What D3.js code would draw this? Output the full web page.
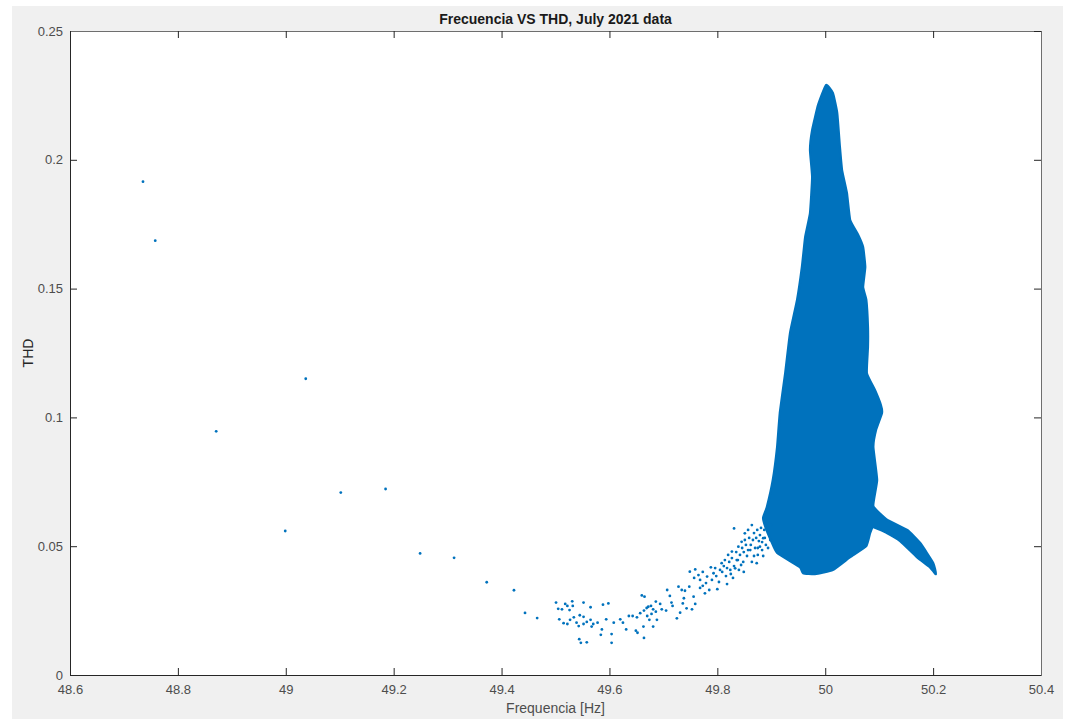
<!DOCTYPE html>
<html lang="en">
<head>
<meta charset="UTF-8">
<script src="https://d3js.org/d3.v7.min.js"></script>
<title>Frecuencia VS THD</title>
<style>
  body { margin: 0; background: #ffffff; }
  text { font-family: "Liberation Sans", Arial, Helvetica, sans-serif; }
</style>
</head>
<body>
<svg width="1065" height="720" id="chart"></svg>
<script>

// tick labels
const xTicks = [48.6, 48.8, 49, 49.2, 49.4, 49.6, 49.8, 50, 50.2, 50.4];
const yTicks = [0, 0.05, 0.1, 0.15, 0.2, 0.25];

// outline of the solid cloud around 50 Hz (freq, thd)
const cloudFreq = [50.0015, 50.014, 50.022, 50.027, 50.031, 50.040, 50.046, 50.061, 50.070, 50.074,
  50.070, 50.076, 50.079, 50.079, 50.077, 50.092, 50.103, 50.105, 50.094, 50.089,
  50.096, 50.089, 50.115, 50.152, 50.176, 50.200, 50.205, 50.194, 50.170, 50.139,
  50.115, 50.089, 50.083, 50.076, 50.046, 50.014, 49.981, 49.959, 49.953, 49.911,
  49.900, 49.890, 49.885, 49.892, 49.903, 49.911, 49.916, 49.926, 49.935, 49.948, 49.957,
  49.963, 49.972, 49.976, 49.972, 49.976, 49.987];
const cloudThd = [0.2290, 0.2259, 0.2182, 0.2050, 0.1960, 0.1871, 0.1766, 0.1708, 0.1661, 0.1584,
  0.1506, 0.1456, 0.1351, 0.1273, 0.1172, 0.1106, 0.1048, 0.1017, 0.0951, 0.0885,
  0.0757, 0.0656, 0.0602, 0.0563, 0.0512, 0.0435, 0.0392, 0.0419, 0.0458, 0.0520,
  0.0551, 0.0575, 0.0551, 0.0501, 0.0458, 0.0408, 0.0392, 0.0396, 0.0419, 0.0474,
  0.0520, 0.0570, 0.0610, 0.0652, 0.0757, 0.0885, 0.1017, 0.1172, 0.1328, 0.1456, 0.1584,
  0.1700, 0.1793, 0.1933, 0.2038, 0.2116, 0.2213];

// single samples outside the cloud
const freq = [48.7353, 48.758, 49.037, 48.871, 49.102, 49.185, 48.999, 49.249, 49.312, 49.3725,
  49.423, 49.4435, 49.466,
  49.501, 49.505, 49.512, 49.518, 49.522, 49.531, 49.532, 49.526, 49.507, 49.515,
  49.522, 49.527, 49.534, 49.539, 49.545, 49.552, 49.543, 49.552, 49.558, 49.565,
  49.570, 49.578, 49.567, 49.552, 49.565, 49.588, 49.598, 49.544, 49.547, 49.558,
  49.594, 49.586, 49.584, 49.604, 49.604, 49.608, 49.620, 49.625, 49.631, 49.636,
  49.643, 49.651, 49.660, 49.665, 49.649, 49.652, 49.663, 49.664, 49.657, 49.664,
  49.669, 49.672, 49.677, 49.681, 49.686, 49.678, 49.670, 49.674, 49.681, 49.688,
  49.686, 49.694, 49.697, 49.705, 49.707, 49.712, 49.715, 49.717, 49.725, 49.728,
  49.734, 49.738, 49.736, 49.743, 49.753, 49.731, 49.740, 49.748, 49.756, 49.759,
  49.749, 49.759, 49.765, 49.768, 49.773, 49.777, 49.781, 49.788, 49.793, 49.800,
  49.805, 49.808, 49.814, 49.820, 49.827, 49.831, 49.833, 49.839, 49.845, 49.851,
  49.857, 49.864, 49.873, 49.879, 49.885,
  49.773, 49.779, 49.785, 49.790, 49.796, 49.798, 49.803, 49.809, 49.812, 49.816,
  49.818, 49.822, 49.824, 49.827, 49.829, 49.835, 49.836, 49.840, 49.842, 49.846,
  49.848, 49.849, 49.853, 49.855, 49.859, 49.861, 49.864, 49.866, 49.868, 49.870,
  49.874, 49.875, 49.877, 49.881, 49.883, 49.887, 49.890, 49.892, 49.768, 49.757,
  49.851, 49.857, 49.862, 49.868, 49.872, 49.875, 49.879, 49.883, 49.885, 49.888,
  49.894, 49.894, 49.898, 49.899, 49.838, 49.844, 49.849, 49.831, 49.825, 49.818];
const thd = [0.1915, 0.1686, 0.1150, 0.0946, 0.0708, 0.0722, 0.0559, 0.0472, 0.0455, 0.0360,
  0.0329, 0.0241, 0.0221,
  0.0281, 0.0257, 0.0255, 0.0276, 0.0268, 0.0286, 0.0268, 0.0252, 0.0216, 0.0201,
  0.0198, 0.0214, 0.0224, 0.0203, 0.0232, 0.0226, 0.0190, 0.0198, 0.0206, 0.0214,
  0.0198, 0.0203, 0.0188, 0.0281, 0.0263, 0.0273, 0.0278, 0.0139, 0.0125, 0.0127,
  0.0216, 0.0177, 0.0156, 0.0159, 0.0125, 0.0203, 0.0216, 0.0203, 0.0177, 0.0229,
  0.0229, 0.0224, 0.0309, 0.0304, 0.0172, 0.0164, 0.0188, 0.0144, 0.0240, 0.0250,
  0.0260, 0.0265, 0.0268, 0.0255, 0.0246, 0.0237, 0.0229, 0.0214, 0.0188, 0.0214,
  0.0285, 0.0276, 0.0255, 0.0250, 0.0330, 0.0307, 0.0281, 0.0268, 0.0220, 0.0343,
  0.0330, 0.0298, 0.0278, 0.0259, 0.0255, 0.0242, 0.0327, 0.0343, 0.0304, 0.0276,
  0.0401, 0.0410, 0.0388, 0.0369, 0.0346, 0.0317, 0.0382, 0.0418, 0.0395, 0.0333,
  0.0408, 0.0434, 0.0446, 0.0466, 0.0479, 0.0569, 0.0414, 0.0498, 0.0517, 0.0550,
  0.0563, 0.0582, 0.0434, 0.0498, 0.0531,
  0.0400, 0.0357, 0.0330, 0.0369, 0.0415, 0.0384, 0.0361, 0.0400, 0.0423, 0.0384,
  0.0353, 0.0439, 0.0408, 0.0454, 0.0377, 0.0477, 0.0446, 0.0408, 0.0466, 0.0493,
  0.0439, 0.0400, 0.0505, 0.0462, 0.0532, 0.0485, 0.0439, 0.0524, 0.0551, 0.0493,
  0.0563, 0.0466, 0.0520, 0.0571, 0.0485, 0.0563, 0.0505, 0.0594, 0.0338, 0.0377,
  0.0524, 0.0485, 0.0505, 0.0462, 0.0532, 0.0493, 0.0543, 0.0516, 0.0462, 0.0532,
  0.0563, 0.0493, 0.0524, 0.0582, 0.0446, 0.0427, 0.0477, 0.0423, 0.0392, 0.0415];

const blue = "#0072bd";
const axisCol = "#262626";

let svg = d3.select("#chart");

// figure background
svg.append("rect")
  .attr("x", 12).attr("y", 6)
  .attr("width", 1051).attr("height", 713)
  .attr("fill", "#f0f0f0");

const pLeft = 70, pRight = 1041, pTop = 31, pBottom = 675;

let x = d3.scaleLinear().domain([48.6, 50.4]).range([pLeft, pRight]);
let y = d3.scaleLinear().domain([0, 0.25]).range([pBottom, pTop]);

svg.append("rect")
  .attr("x", pLeft).attr("y", pTop)
  .attr("width", pRight - pLeft).attr("height", pBottom - pTop)
  .attr("fill", "#ffffff");

svg.append("clipPath").attr("id", "plotclip")
  .append("rect")
  .attr("x", pLeft).attr("y", pTop)
  .attr("width", pRight - pLeft).attr("height", pBottom - pTop);

let plot = svg.append("g").attr("clip-path", "url(#plotclip)");

// the dense cloud
let cloud = cloudFreq.map((f, i) => [f, cloudThd[i]]);
plot.append("path")
  .datum(cloud)
  .attr("d", d3.line().x(d => x(d[0])).y(d => y(d[1])).curve(d3.curveCardinalClosed.tension(0.6)))
  .attr("fill", blue)
  .attr("stroke", blue)
  .attr("stroke-width", 2.5)
  .attr("stroke-linejoin", "round");

// scattered samples
plot.selectAll("circle.pt")
  .data(freq.map((f, i) => [f, thd[i]]))
  .join("circle")
  .attr("class", "pt")
  .attr("cx", d => x(d[0]))
  .attr("cy", d => y(d[1]))
  .attr("r", 1.4)
  .attr("fill", blue);

// axes, ticks inward like matlab
const fmt = d3.format("~g");

let xAxis = svg.append("g")
  .attr("transform", `translate(0,${pBottom})`)
  .call(d3.axisBottom(x).tickValues(xTicks).tickFormat(fmt).tickSize(-7).tickPadding(10));

let yAxis = svg.append("g")
  .attr("transform", `translate(${pLeft},0)`)
  .call(d3.axisLeft(y).tickValues(yTicks).tickFormat(fmt).tickSize(-7).tickPadding(7));

let xTop = svg.append("g")
  .attr("transform", `translate(0,${pTop})`)
  .call(d3.axisTop(x).tickValues(xTicks).tickFormat("").tickSize(-7));

let yRight = svg.append("g")
  .attr("transform", `translate(${pRight},0)`)
  .call(d3.axisRight(y).tickValues(yTicks).tickFormat("").tickSize(-7));

[xAxis, yAxis].forEach(g => {
  g.select(".domain").attr("stroke", axisCol);
  g.selectAll(".tick line").attr("stroke", axisCol);
  g.selectAll(".tick text")
    .attr("fill", "#4d4d4d")
    .style("font-size", "13px")
    .style("font-family", "'Liberation Sans', Arial, sans-serif");
});
[xTop, yRight].forEach(g => {
  g.select(".domain").attr("stroke", "#6e6e6e");
  g.selectAll(".tick line").attr("stroke", axisCol);
});

// labels
svg.append("text")
  .attr("x", (pLeft + pRight) / 2)
  .attr("y", 24)
  .attr("text-anchor", "middle")
  .attr("fill", "#1a1a1a")
  .style("font-size", "14px")
  .style("font-weight", "bold")
  .text("Frecuencia VS THD, July 2021 data");

svg.append("text")
  .attr("x", (pLeft + pRight) / 2)
  .attr("y", 713)
  .attr("text-anchor", "middle")
  .attr("fill", "#4d4d4d")
  .style("font-size", "14px")
  .text("Frequencia [Hz]");

svg.append("text")
  .attr("transform", `translate(33,${(pTop + pBottom) / 2}) rotate(-90)`)
  .attr("text-anchor", "middle")
  .attr("fill", "#262626")
  .style("font-size", "14px")
  .text("THD");

</script>
</body>
</html>
